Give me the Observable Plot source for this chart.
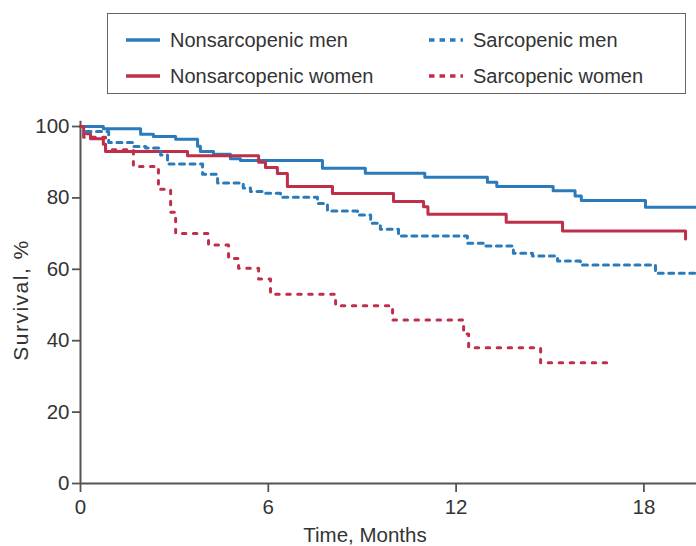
<!DOCTYPE html>
<html>
<head>
<meta charset="utf-8">
<script src="https://cdn.jsdelivr.net/npm/d3@7"></script>
<script src="https://cdn.jsdelivr.net/npm/@observablehq/plot@0.6"></script>
<style>
  html, body { margin: 0; padding: 0; background: #fff; }
  #wrap { position: relative; width: 696px; height: 546px; font-family: "Liberation Sans", Arial, sans-serif; color: #333; overflow: hidden; }
  #legend { position: absolute; left: 107px; top: 13px; width: 579px; height: 81px; border: 1.5px solid #666; box-sizing: border-box; }
  .item { position: absolute; display: flex; align-items: center; font-size: 20px; color: #333; white-space: nowrap; }
  .item svg { margin-right: 9px; }
  #chart { position: absolute; left: 0; top: 100px; }
  .xlabel { position: absolute; left: 0; width: 730px; top: 523px; text-align: center; font-size: 20.5px; }
  .ylabel { position: absolute; left: 21px; top: 300px; font-size: 21px; letter-spacing: 1.5px; transform: translate(-50%, -50%) rotate(-90deg); white-space: nowrap; }
</style>
</head>
<body>
<div id="wrap">
  <div id="legend"></div>
  <div id="chart"></div>
  <div class="xlabel">Time, Months</div>
  <div class="ylabel">Survival, %</div>
</div>
<script>
// Kaplan-Meier step data (time in months, survival %)
const nmTime = [0, 0.73, 1.92, 2.33, 3.04, 3.74, 3.83, 4.25, 4.79, 5.11, 7.73, 9.1, 11.0, 13.0, 13.3, 15.1, 15.8, 16.0, 18.05, 19.68];
const nmSurv = [100, 99.4, 97.8, 97.2, 96.4, 94.5, 93, 92.2, 91, 90.5, 88.3, 86.9, 85.8, 84.4, 83.2, 82, 80.5, 79.3, 77.4, 77.4];

const nwTime = [0, 0.1, 0.32, 0.73, 0.8, 3.42, 5.69, 5.91, 6.29, 6.61, 8.05, 10.0, 10.96, 11.1, 13.6, 15.4, 19.33, 19.33];
const nwSurv = [100, 98, 96.6, 95, 93, 91.8, 90, 88.5, 86.8, 83.2, 81.2, 79, 77.5, 75.4, 73.2, 70.7, 70.7, 68.5];

const smTime = [0, 0.16, 0.9, 1.7, 2.08, 2.56, 2.78, 3.9, 4.38, 5.2, 5.43, 5.81, 6.39, 7.57, 7.89, 8.85, 9.27, 9.58, 10.16, 12.36, 12.88, 13.83, 14.44, 15.24, 15.97, 18.37, 19.68];
const smSurv = [100, 98.6, 95.5, 94.4, 94, 92, 89.5, 86.6, 84.2, 82.8, 81.8, 81.3, 80.2, 78.4, 76.3, 75.2, 72.9, 71.2, 69.3, 67.3, 66.5, 64.5, 63.7, 62.3, 61.2, 58.9, 58.9];

const swTime = [0, 0.1, 0.8, 1.69, 2.49, 2.88, 3.04, 4.09, 4.73, 5.05, 5.69, 6.07, 8.15, 9.97, 12.24, 12.4, 14.7, 17.03];
const swSurv = [100, 97, 93.5, 88.8, 82.4, 76, 70, 66.8, 63, 60.3, 57.3, 53, 49.8, 45.8, 41.9, 38, 33.8, 33.8];

const seriesNames = ["Nonsarcopenic men", "Nonsarcopenic women", "Sarcopenic men", "Sarcopenic women"];
const xTicks = [0, 6, 12, 18];
const yTicks = [0, 20, 40, 60, 80, 100];

const BLUE = "#2b7bbb", RED = "#c02f4a";
const styles = {
  "Nonsarcopenic men": {stroke: BLUE, dash: null},
  "Nonsarcopenic women": {stroke: RED, dash: null},
  "Sarcopenic men": {stroke: BLUE, dash: "5,5.5"},
  "Sarcopenic women": {stroke: RED, dash: "3.5,7.5"}
};

const toRows = (name, t, s) => t.map((d, i) => ({series: name, time: d, surv: s[i]}));
const data = {
  "Nonsarcopenic men": toRows("Nonsarcopenic men", nmTime, nmSurv),
  "Nonsarcopenic women": toRows("Nonsarcopenic women", nwTime, nwSurv),
  "Sarcopenic men": toRows("Sarcopenic men", smTime, smSurv),
  "Sarcopenic women": toRows("Sarcopenic women", swTime, swSurv)
};

// Legend
const legend = document.getElementById("legend");
const legendPos = [
  {name: "Nonsarcopenic men", left: 17, top: 26},
  {name: "Nonsarcopenic women", left: 17, top: 62},
  {name: "Sarcopenic men", left: 320, top: 26},
  {name: "Sarcopenic women", left: 320, top: 62}
];
legendPos.forEach(p => {
  const st = styles[p.name];
  const div = document.createElement("div");
  div.className = "item";
  div.style.left = p.left + "px";
  div.style.top = (p.top - 13) + "px";
  div.style.height = "26px";
  div.innerHTML = `<svg width="36" height="10"><line x1="1" x2="35" y1="5" y2="5" stroke="${st.stroke}" stroke-width="3.5" ${st.dash ? `stroke-dasharray="5.5,5"` : ""}/></svg><span>${p.name}</span>`;
  legend.appendChild(div);
});

const lineMarks = seriesNames.map(name => Plot.line(data[name], {
  x: "time", y: "surv", curve: "step-after",
  stroke: styles[name].stroke, strokeWidth: 3,
  strokeDasharray: styles[name].dash || undefined
}));

const chart = Plot.plot({
  width: 696,
  height: 446,
  marginLeft: 80,
  marginRight: 0,
  marginTop: 26,
  marginBottom: 63,
  style: {fontFamily: "'Liberation Sans', Arial, sans-serif", fontSize: "20px", color: "#333", background: "transparent"},
  x: {domain: [0, 19.68]},
  y: {domain: [0, 100]},
  marks: [
    Plot.axisY({ticks: yTicks, tickSize: 8, tickPadding: 3, label: null, stroke: "#555", strokeWidth: 1.8, fontSize: 20.5}),
    Plot.axisX({ticks: xTicks, tickSize: 9, tickPadding: 7, label: null, stroke: "#555", strokeWidth: 1.8, fontSize: 20.5}),
    Plot.ruleX([0], {y1: 0, y2: 101.5, stroke: "#555", strokeWidth: 2}),
    Plot.ruleY([0], {stroke: "#555", strokeWidth: 2}),
    ...lineMarks
  ]
});
document.getElementById("chart").appendChild(chart);
</script>
</body>
</html>
